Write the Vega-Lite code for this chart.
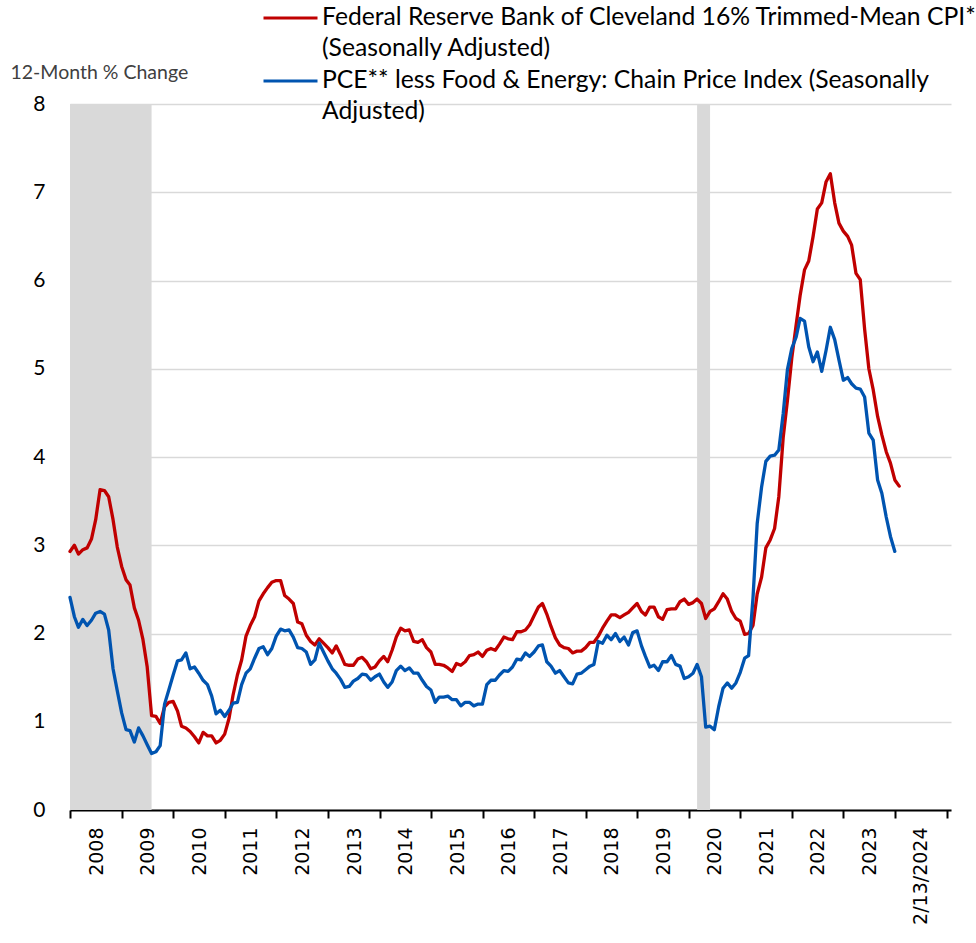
{
"$schema": "https://vega.github.io/schema/vega-lite/v6.json",
"width": 881, "height": 706,
"autosize": {"type": "none"},
"padding": {"left": 70, "top": 104, "right": 25, "bottom": 133},
"background": "white",
"config": {"view": {"stroke": null}, "font": "Lato"},
"datasets": {
"recessions": [
{"start": "2007-12-31", "end": "2009-07-31"},
{"start": "2020-02-29", "end": "2020-05-31"}
],
"inflation": [
{"date":"2007-12-31","cpi":2.93,"pce":2.41},
{"date":"2008-01-31","cpi":3.00,"pce":2.19},{"date":"2008-02-29","cpi":2.90,"pce":2.07},{"date":"2008-03-31","cpi":2.95,"pce":2.16},{"date":"2008-04-30","cpi":2.97,"pce":2.09},{"date":"2008-05-31","cpi":3.07,"pce":2.15},{"date":"2008-06-30","cpi":3.29,"pce":2.23},{"date":"2008-07-31","cpi":3.63,"pce":2.25},{"date":"2008-08-31","cpi":3.62,"pce":2.22},{"date":"2008-09-30","cpi":3.55,"pce":2.04},{"date":"2008-10-31","cpi":3.29,"pce":1.60},{"date":"2008-11-30","cpi":2.98,"pce":1.35},{"date":"2008-12-31","cpi":2.76,"pce":1.10},
{"date":"2009-01-31","cpi":2.61,"pce":0.91},{"date":"2009-02-28","cpi":2.55,"pce":0.90},{"date":"2009-03-31","cpi":2.29,"pce":0.77},{"date":"2009-04-30","cpi":2.15,"pce":0.93},{"date":"2009-05-31","cpi":1.93,"pce":0.84},{"date":"2009-06-30","cpi":1.62,"pce":0.74},{"date":"2009-07-31","cpi":1.07,"pce":0.64},{"date":"2009-08-31","cpi":1.06,"pce":0.66},{"date":"2009-09-30","cpi":0.98,"pce":0.73},{"date":"2009-10-31","cpi":1.17,"pce":1.20},{"date":"2009-11-30","cpi":1.22,"pce":1.36},{"date":"2009-12-31","cpi":1.23,"pce":1.53},
{"date":"2010-01-31","cpi":1.12,"pce":1.69},{"date":"2010-02-28","cpi":0.95,"pce":1.70},{"date":"2010-03-31","cpi":0.93,"pce":1.78},{"date":"2010-04-30","cpi":0.89,"pce":1.60},{"date":"2010-05-31","cpi":0.83,"pce":1.62},{"date":"2010-06-30","cpi":0.76,"pce":1.55},{"date":"2010-07-31","cpi":0.88,"pce":1.47},{"date":"2010-08-31","cpi":0.84,"pce":1.42},{"date":"2010-09-30","cpi":0.84,"pce":1.29},{"date":"2010-10-31","cpi":0.76,"pce":1.09},{"date":"2010-11-30","cpi":0.79,"pce":1.13},{"date":"2010-12-31","cpi":0.86,"pce":1.06},
{"date":"2011-01-31","cpi":1.04,"pce":1.13},{"date":"2011-02-28","cpi":1.30,"pce":1.21},{"date":"2011-03-31","cpi":1.53,"pce":1.22},{"date":"2011-04-30","cpi":1.70,"pce":1.42},{"date":"2011-05-31","cpi":1.97,"pce":1.55},{"date":"2011-06-30","cpi":2.09,"pce":1.60},{"date":"2011-07-31","cpi":2.19,"pce":1.72},{"date":"2011-08-31","cpi":2.37,"pce":1.83},{"date":"2011-09-30","cpi":2.45,"pce":1.85},{"date":"2011-10-31","cpi":2.52,"pce":1.76},{"date":"2011-11-30","cpi":2.58,"pce":1.83},{"date":"2011-12-31","cpi":2.60,"pce":1.97},
{"date":"2012-01-31","cpi":2.60,"pce":2.05},{"date":"2012-02-29","cpi":2.43,"pce":2.03},{"date":"2012-03-31","cpi":2.39,"pce":2.04},{"date":"2012-04-30","cpi":2.34,"pce":1.96},{"date":"2012-05-31","cpi":2.13,"pce":1.84},{"date":"2012-06-30","cpi":2.11,"pce":1.83},{"date":"2012-07-31","cpi":1.98,"pce":1.79},{"date":"2012-08-31","cpi":1.91,"pce":1.65},{"date":"2012-09-30","cpi":1.87,"pce":1.70},{"date":"2012-10-31","cpi":1.94,"pce":1.89},{"date":"2012-11-30","cpi":1.89,"pce":1.79},{"date":"2012-12-31","cpi":1.84,"pce":1.69},
{"date":"2013-01-31","cpi":1.78,"pce":1.60},{"date":"2013-02-28","cpi":1.86,"pce":1.55},{"date":"2013-03-31","cpi":1.76,"pce":1.48},{"date":"2013-04-30","cpi":1.65,"pce":1.39},{"date":"2013-05-31","cpi":1.64,"pce":1.40},{"date":"2013-06-30","cpi":1.64,"pce":1.46},{"date":"2013-07-31","cpi":1.71,"pce":1.49},{"date":"2013-08-31","cpi":1.73,"pce":1.54},{"date":"2013-09-30","cpi":1.68,"pce":1.53},{"date":"2013-10-31","cpi":1.60,"pce":1.47},{"date":"2013-11-30","cpi":1.62,"pce":1.51},{"date":"2013-12-31","cpi":1.69,"pce":1.54},
{"date":"2014-01-31","cpi":1.74,"pce":1.45},{"date":"2014-02-28","cpi":1.68,"pce":1.39},{"date":"2014-03-31","cpi":1.81,"pce":1.45},{"date":"2014-04-30","cpi":1.96,"pce":1.58},{"date":"2014-05-31","cpi":2.06,"pce":1.63},{"date":"2014-06-30","cpi":2.03,"pce":1.58},{"date":"2014-07-31","cpi":2.04,"pce":1.61},{"date":"2014-08-31","cpi":1.91,"pce":1.55},{"date":"2014-09-30","cpi":1.90,"pce":1.55},{"date":"2014-10-31","cpi":1.93,"pce":1.47},{"date":"2014-11-30","cpi":1.84,"pce":1.40},{"date":"2014-12-31","cpi":1.79,"pce":1.36},
{"date":"2015-01-31","cpi":1.65,"pce":1.22},{"date":"2015-02-28","cpi":1.65,"pce":1.28},{"date":"2015-03-31","cpi":1.64,"pce":1.28},{"date":"2015-04-30","cpi":1.61,"pce":1.29},{"date":"2015-05-31","cpi":1.57,"pce":1.25},{"date":"2015-06-30","cpi":1.66,"pce":1.25},{"date":"2015-07-31","cpi":1.64,"pce":1.18},{"date":"2015-08-31","cpi":1.68,"pce":1.22},{"date":"2015-09-30","cpi":1.75,"pce":1.22},{"date":"2015-10-31","cpi":1.76,"pce":1.18},{"date":"2015-11-30","cpi":1.79,"pce":1.20},{"date":"2015-12-31","cpi":1.74,"pce":1.20},
{"date":"2016-01-31","cpi":1.81,"pce":1.42},{"date":"2016-02-29","cpi":1.83,"pce":1.47},{"date":"2016-03-31","cpi":1.81,"pce":1.47},{"date":"2016-04-30","cpi":1.88,"pce":1.53},{"date":"2016-05-31","cpi":1.96,"pce":1.58},{"date":"2016-06-30","cpi":1.94,"pce":1.57},{"date":"2016-07-31","cpi":1.93,"pce":1.62},{"date":"2016-08-31","cpi":2.02,"pce":1.71},{"date":"2016-09-30","cpi":2.02,"pce":1.70},{"date":"2016-10-31","cpi":2.04,"pce":1.78},{"date":"2016-11-30","cpi":2.10,"pce":1.74},{"date":"2016-12-31","cpi":2.20,"pce":1.79},
{"date":"2017-01-31","cpi":2.30,"pce":1.86},{"date":"2017-02-28","cpi":2.34,"pce":1.87},{"date":"2017-03-31","cpi":2.22,"pce":1.68},{"date":"2017-04-30","cpi":2.08,"pce":1.63},{"date":"2017-05-31","cpi":1.95,"pce":1.55},{"date":"2017-06-30","cpi":1.87,"pce":1.58},{"date":"2017-07-31","cpi":1.84,"pce":1.51},{"date":"2017-08-31","cpi":1.83,"pce":1.44},{"date":"2017-09-30","cpi":1.78,"pce":1.43},{"date":"2017-10-31","cpi":1.80,"pce":1.54},{"date":"2017-11-30","cpi":1.80,"pce":1.55},{"date":"2017-12-31","cpi":1.84,"pce":1.59},
{"date":"2018-01-31","cpi":1.90,"pce":1.63},{"date":"2018-02-28","cpi":1.90,"pce":1.65},{"date":"2018-03-31","cpi":1.97,"pce":1.91},{"date":"2018-04-30","cpi":2.06,"pce":1.89},{"date":"2018-05-31","cpi":2.14,"pce":1.98},{"date":"2018-06-30","cpi":2.21,"pce":1.93},{"date":"2018-07-31","cpi":2.21,"pce":2.00},{"date":"2018-08-31","cpi":2.18,"pce":1.91},{"date":"2018-09-30","cpi":2.21,"pce":1.96},{"date":"2018-10-31","cpi":2.24,"pce":1.87},{"date":"2018-11-30","cpi":2.29,"pce":2.01},{"date":"2018-12-31","cpi":2.34,"pce":2.03},
{"date":"2019-01-31","cpi":2.25,"pce":1.86},{"date":"2019-02-28","cpi":2.21,"pce":1.74},{"date":"2019-03-31","cpi":2.30,"pce":1.62},{"date":"2019-04-30","cpi":2.30,"pce":1.64},{"date":"2019-05-31","cpi":2.19,"pce":1.58},{"date":"2019-06-30","cpi":2.16,"pce":1.68},{"date":"2019-07-31","cpi":2.27,"pce":1.68},{"date":"2019-08-31","cpi":2.28,"pce":1.75},{"date":"2019-09-30","cpi":2.28,"pce":1.65},{"date":"2019-10-31","cpi":2.36,"pce":1.63},{"date":"2019-11-30","cpi":2.39,"pce":1.49},{"date":"2019-12-31","cpi":2.33,"pce":1.51},
{"date":"2020-01-31","cpi":2.35,"pce":1.55},{"date":"2020-02-29","cpi":2.39,"pce":1.65},{"date":"2020-03-31","cpi":2.34,"pce":1.51},{"date":"2020-04-30","cpi":2.17,"pce":0.94},{"date":"2020-05-31","cpi":2.25,"pce":0.95},{"date":"2020-06-30","cpi":2.28,"pce":0.91},{"date":"2020-07-31","cpi":2.36,"pce":1.17},{"date":"2020-08-31","cpi":2.45,"pce":1.38},{"date":"2020-09-30","cpi":2.39,"pce":1.44},{"date":"2020-10-31","cpi":2.25,"pce":1.38},{"date":"2020-11-30","cpi":2.17,"pce":1.44},{"date":"2020-12-31","cpi":2.14,"pce":1.56},
{"date":"2021-01-31","cpi":1.99,"pce":1.72},{"date":"2021-02-28","cpi":2.00,"pce":1.75},{"date":"2021-03-31","cpi":2.09,"pce":2.40},{"date":"2021-04-30","cpi":2.45,"pce":3.25},{"date":"2021-05-31","cpi":2.64,"pce":3.66},{"date":"2021-06-30","cpi":2.97,"pce":3.95},{"date":"2021-07-31","cpi":3.06,"pce":4.01},{"date":"2021-08-31","cpi":3.19,"pce":4.02},{"date":"2021-09-30","cpi":3.55,"pce":4.08},{"date":"2021-10-31","cpi":4.22,"pce":4.49},{"date":"2021-11-30","cpi":4.64,"pce":4.99},{"date":"2021-12-31","cpi":5.12,"pce":5.23},
{"date":"2022-01-31","cpi":5.50,"pce":5.36},{"date":"2022-02-28","cpi":5.83,"pce":5.57},{"date":"2022-03-31","cpi":6.12,"pce":5.54},{"date":"2022-04-30","cpi":6.22,"pce":5.25},{"date":"2022-05-31","cpi":6.50,"pce":5.08},{"date":"2022-06-30","cpi":6.81,"pce":5.19},{"date":"2022-07-31","cpi":6.88,"pce":4.97},{"date":"2022-08-31","cpi":7.12,"pce":5.21},{"date":"2022-09-30","cpi":7.21,"pce":5.47},{"date":"2022-10-31","cpi":6.88,"pce":5.33},{"date":"2022-11-30","cpi":6.65,"pce":5.10},{"date":"2022-12-31","cpi":6.56,"pce":4.87},
{"date":"2023-01-31","cpi":6.50,"pce":4.90},{"date":"2023-02-28","cpi":6.40,"pce":4.83},{"date":"2023-03-31","cpi":6.08,"pce":4.78},{"date":"2023-04-30","cpi":6.01,"pce":4.77},{"date":"2023-05-31","cpi":5.45,"pce":4.68},{"date":"2023-06-30","cpi":5.00,"pce":4.27},{"date":"2023-07-31","cpi":4.76,"pce":4.19},{"date":"2023-08-31","cpi":4.46,"pce":3.74},{"date":"2023-09-30","cpi":4.25,"pce":3.59},{"date":"2023-10-31","cpi":4.06,"pce":3.32},{"date":"2023-11-30","cpi":3.93,"pce":3.10},{"date":"2023-12-31","cpi":3.74,"pce":2.93},
{"date":"2024-01-31","cpi":3.67}
]
},
"layer": [
{
"data": {"name": "recessions"},
"mark": {"type": "rect", "color": "#D9D9D9"},
"encoding": {
"x": {"field": "start", "type": "temporal", "title": null},
"x2": {"field": "end"}
}
},
{
"data": {"name": "inflation"},
"transform": [
{"fold": ["cpi", "pce"], "as": ["series", "value"]},
{"filter": "isValid(datum.value)"}
],
"mark": {"type": "line", "strokeWidth": 3.3, "strokeJoin": "round", "strokeCap": "round"},
"encoding": {
"x": {
"field": "date", "type": "temporal", "title": null,
"scale": {"type": "utc", "domain": [{"year": 2007, "month": 12, "date": 31, "utc": true}, {"year": 2025, "month": 2, "date": 1, "utc": true}]},
"axis": {
"values": [
{"year": 2008, "month": 1, "date": 1, "utc": true},{"year": 2009, "month": 1, "date": 1, "utc": true},{"year": 2010, "month": 1, "date": 1, "utc": true},{"year": 2011, "month": 1, "date": 1, "utc": true},{"year": 2012, "month": 1, "date": 1, "utc": true},{"year": 2013, "month": 1, "date": 1, "utc": true},{"year": 2014, "month": 1, "date": 1, "utc": true},{"year": 2015, "month": 1, "date": 1, "utc": true},{"year": 2016, "month": 1, "date": 1, "utc": true},{"year": 2017, "month": 1, "date": 1, "utc": true},{"year": 2018, "month": 1, "date": 1, "utc": true},{"year": 2019, "month": 1, "date": 1, "utc": true},{"year": 2020, "month": 1, "date": 1, "utc": true},{"year": 2021, "month": 1, "date": 1, "utc": true},{"year": 2022, "month": 1, "date": 1, "utc": true},{"year": 2023, "month": 1, "date": 1, "utc": true},{"year": 2024, "month": 1, "date": 1, "utc": true},{"year": 2025, "month": 1, "date": 1, "utc": true}
],
"labelExpr": "utcyear(datum.value) == 2025 ? '' : (utcyear(datum.value) == 2024 ? '2/13/2024' : utcFormat(datum.value, '%Y'))",
"labelAngle": 270, "labelAlign": "right", "labelBaseline": "middle",
"labelOffset": 26, "labelPadding": 9,
"labelFont": "DejaVu Sans", "labelFontSize": 19, "labelColor": "#000000",
"labelOverlap": false, "labelFlush": false, "labelBound": false,
"tickSize": 8, "tickWidth": 2, "tickColor": "#000000",
"domainColor": "#000000", "domainWidth": 2, "grid": false
}
},
"y": {
"field": "value", "type": "quantitative",
"scale": {"domain": [0, 8], "nice": false, "zero": true},
"axis": {
"values": [0, 1, 2, 3, 4, 5, 6, 7, 8],
"title": "12-Month % Change",
"titleAngle": 0, "titleAlign": "left", "titleBaseline": "alphabetic",
"titleX": -60, "titleY": -26,
"titleFont": "Lato", "titleFontSize": 19.5, "titleFontWeight": "normal", "titleColor": "#404040",
"ticks": false, "domain": false,
"grid": true, "gridColor": "#D9D9D9", "gridWidth": 1.5,
"labelFont": "Lato", "labelFontSize": 21, "labelColor": "#000000", "labelPadding": 25
}
},
"color": {
"field": "series", "type": "nominal",
"scale": {"domain": ["cpi", "pce"], "range": ["#C00000", "#0054B0"]},
"legend": {
"orient": "none", "legendX": 192, "legendY": -98, "direction": "vertical",
"title": null, "padding": 0,
"symbolType": "stroke", "symbolSize": 2916, "symbolStrokeWidth": 3,
"labelFont": "Lato", "labelFontSize": 24.7, "labelColor": "#000000", "labelLimit": 900, "labelOffset": 3,
"rowPadding": 7,
"labelExpr": "datum.value == 'cpi' ? ['Federal Reserve Bank of Cleveland 16% Trimmed-Mean CPI*', '(Seasonally Adjusted)'] : ['PCE** less Food & Energy: Chain Price Index (Seasonally', 'Adjusted)']",
"encode": {
"labels": {"update": {"lineHeight": {"value": 31}, "y": {"value": 12}}},
"symbols": {"update": {"y": {"value": 12}}}
}
}
}
}
}
]
}
